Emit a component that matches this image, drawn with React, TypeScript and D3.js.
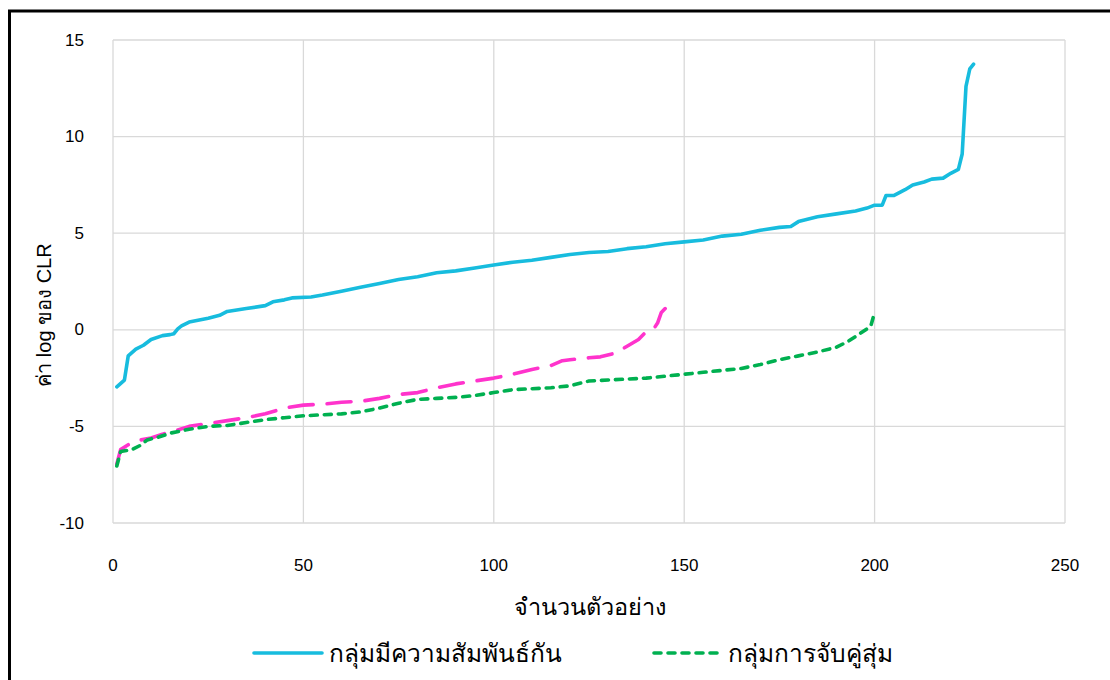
import { useEffect, useRef } from "react";
import * as d3 from "d3";

// Sample index / log CLR value, per group
const relatedIdx = [1, 3, 4, 6, 8, 10, 13, 15, 16, 17, 18, 20, 25, 28, 30, 35, 40, 42, 45, 47, 52, 55, 60, 65, 70, 75, 80, 85, 90, 95, 100, 105, 110, 115, 120, 125, 130, 135, 140, 145, 150, 155, 160, 165, 170, 175, 178, 180, 185, 190, 195, 198, 200, 202, 203, 205, 208, 210, 213, 215, 218, 220, 222, 223, 224, 225, 226];
const relatedClr = [-2.95, -2.6, -1.35, -1.0, -0.8, -0.5, -0.3, -0.25, -0.2, 0.05, 0.2, 0.4, 0.6, 0.75, 0.95, 1.1, 1.25, 1.45, 1.55, 1.65, 1.7, 1.8, 2.0, 2.2, 2.4, 2.6, 2.75, 2.95, 3.05, 3.2, 3.35, 3.5, 3.6, 3.75, 3.9, 4.0, 4.05, 4.2, 4.3, 4.45, 4.55, 4.65, 4.85, 4.95, 5.15, 5.3, 5.35, 5.6, 5.85, 6.0, 6.15, 6.3, 6.45, 6.45, 6.95, 6.95, 7.25, 7.5, 7.65, 7.8, 7.85, 8.1, 8.3, 9.1, 12.6, 13.5, 13.75];

const otherIdx = [1, 2, 4, 6, 10, 13, 16, 20, 25, 30, 35, 40, 45, 50, 55, 60, 65, 70, 75, 80, 85, 90, 95, 100, 105, 110, 115, 118, 120, 125, 128, 132, 135, 138, 140, 142, 143, 144, 145];
const otherClr = [-6.95, -6.2, -5.95, -5.75, -5.6, -5.4, -5.25, -5.0, -4.85, -4.7, -4.55, -4.35, -4.05, -3.9, -3.85, -3.75, -3.7, -3.55, -3.35, -3.25, -3.0, -2.8, -2.65, -2.5, -2.3, -2.05, -1.85, -1.6, -1.55, -1.45, -1.4, -1.2, -0.85, -0.5, -0.1, 0.05, 0.35, 0.9, 1.1];

const randomIdx = [1, 2, 5, 7, 9, 12, 15, 20, 25, 30, 35, 40, 45, 50, 55, 60, 65, 70, 75, 80, 85, 90, 95, 100, 105, 110, 115, 120, 125, 130, 135, 140, 145, 150, 155, 160, 165, 170, 175, 180, 185, 190, 193, 195, 198, 199, 200];
const randomClr = [-7.05, -6.3, -6.2, -6.0, -5.7, -5.55, -5.35, -5.15, -5.0, -4.95, -4.8, -4.65, -4.55, -4.45, -4.4, -4.35, -4.25, -4.05, -3.8, -3.6, -3.55, -3.5, -3.4, -3.25, -3.1, -3.05, -3.0, -2.9, -2.65, -2.6, -2.55, -2.5, -2.4, -2.3, -2.2, -2.1, -2.0, -1.8, -1.55, -1.35, -1.15, -0.9, -0.6, -0.35, 0.05, 0.2, 0.9];

const xTicks = [0, 50, 100, 150, 200, 250];
const yTicks = [-10, -5, 0, 5, 10, 15];

const legendLabels = ["กลุ่มมีความสัมพันธ์กัน", "กลุ่มการจับคู่สุ่ม"];

const W = 1110;
const H = 680;
const FONT = "'Liberation Sans', Arial, 'Noto Sans', sans-serif";

export default function App() {
  const svgRef = useRef<SVGSVGElement>(null);

  useEffect(() => {
    document.body.style.margin = "0";
    const svg = d3.select(svgRef.current);
    svg.selectAll("*").remove();

    const x = d3.scaleLinear().domain([0, 250]).range([113, 1065]);
    const y = d3.scaleLinear().domain([-10, 15]).range([523, 40]);

    svg.append("rect").attr("width", W).attr("height", H).attr("fill", "#fff");

    // outer frame (runs off the right and bottom edge)
    svg.append("rect")
      .attr("x", 9.5).attr("y", 11)
      .attr("width", 1300).attr("height", 900)
      .attr("fill", "none")
      .attr("stroke", "#000")
      .attr("stroke-width", 3);

    const grid = svg.append("g").attr("stroke", "#d9d9d9").attr("stroke-width", 1.3);
    yTicks.forEach((t) => {
      grid.append("line").attr("x1", x(0)).attr("x2", x(250)).attr("y1", y(t)).attr("y2", y(t));
    });
    xTicks.forEach((t) => {
      grid.append("line").attr("x1", x(t)).attr("x2", x(t)).attr("y1", y(15)).attr("y2", y(-10));
    });

    // tick labels
    svg.append("g")
      .selectAll("text")
      .data(yTicks)
      .join("text")
      .attr("x", 84)
      .attr("y", (d) => y(d))
      .attr("text-anchor", "end")
      .attr("dominant-baseline", "central")
      .attr("font-family", FONT)
      .attr("font-size", 17)
      .attr("fill", "#000")
      .text((d) => String(d));

    svg.append("g")
      .selectAll("text")
      .data(xTicks)
      .join("text")
      .attr("x", (d) => x(d))
      .attr("y", 565)
      .attr("text-anchor", "middle")
      .attr("dominant-baseline", "central")
      .attr("font-family", FONT)
      .attr("font-size", 17)
      .attr("fill", "#000")
      .text((d) => String(d));

    // axis titles
    svg.append("text")
      .attr("x", 590).attr("y", 607)
      .attr("text-anchor", "middle")
      .attr("dominant-baseline", "central")
      .attr("font-family", FONT)
      .attr("font-size", 23.5)
      .text("จำนวนตัวอย่าง");

    svg.append("text")
      .attr("transform", "translate(44,315) rotate(-90)")
      .attr("text-anchor", "middle")
      .attr("dominant-baseline", "central")
      .attr("font-family", FONT)
      .attr("font-size", 20)
      .text("ค่า log ของ CLR");

    const line = d3.line<[number, number]>()
      .x((d) => x(d[0]))
      .y((d) => y(d[1]));

    const series = [
      { idx: relatedIdx, val: relatedClr, color: "#17bcde", dash: null },
      { idx: otherIdx, val: otherClr, color: "#ff33cc", dash: "24 14" },
      { idx: randomIdx, val: randomClr, color: "#00b050", dash: "7 7" },
    ];

    series.forEach((s) => {
      const pts = s.idx.map((v, i) => [v, s.val[i]] as [number, number]);
      const p = svg.append("path")
        .attr("d", line(pts))
        .attr("fill", "none")
        .attr("stroke", s.color)
        .attr("stroke-width", 3.6)
        .attr("stroke-linejoin", "round")
        .attr("stroke-linecap", "round");
      if (s.dash) p.attr("stroke-dasharray", s.dash);
    });

    // legend
    const legend = [
      { x1: 254, x2: 322, color: "#17bcde", dash: null, label: legendLabels[0] },
      { x1: 654, x2: 721, color: "#00b050", dash: "7 7", label: legendLabels[1] },
    ];
    legend.forEach((l) => {
      const ln = svg.append("line")
        .attr("x1", l.x1).attr("x2", l.x2)
        .attr("y1", 653).attr("y2", 653)
        .attr("stroke", l.color)
        .attr("stroke-width", 3.6)
        .attr("stroke-linecap", "round");
      if (l.dash) ln.attr("stroke-dasharray", l.dash);
      svg.append("text")
        .attr("x", l.x2 + 7).attr("y", 653)
        .attr("dominant-baseline", "central")
        .attr("font-family", FONT)
        .attr("font-size", 24.5)
        .text(l.label);
    });
  }, []);

  return (
    <div style={{ position: "absolute", left: 0, top: 0 }}>
      <svg ref={svgRef} width={W} height={H} style={{ display: "block" }} />
    </div>
  );
}
